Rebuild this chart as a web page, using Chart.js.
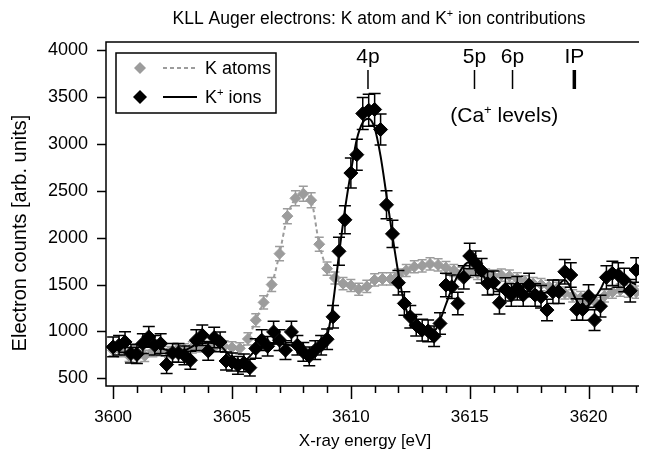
<!DOCTYPE html>
<html>
<head>
<meta charset="utf-8">
<title>KLL Auger electrons</title>
<script src="https://cdn.jsdelivr.net/npm/chart.js@4.4.1/dist/chart.umd.min.js"></script>
<style>
    html, body { margin: 0; padding: 0; background: #fff; }
    canvas { display: block; }
</style>
</head>
<body>
<canvas id="augerChart" width="647" height="451"></canvas>
<script>
// K+ ions (black diamonds), 0.25 eV steps
const ionEnergy = [
    3600, 3600.25, 3600.5, 3600.75, 3601, 3601.25, 3601.5, 3601.75, 3602, 3602.25,
    3602.5, 3602.75, 3603, 3603.25, 3603.5, 3603.75, 3604, 3604.25, 3604.5, 3604.75,
    3605, 3605.25, 3605.5, 3605.75, 3606, 3606.25, 3606.5, 3606.75, 3607, 3607.25,
    3607.5, 3607.75, 3608, 3608.25, 3608.5, 3608.75, 3609, 3609.25, 3609.5, 3609.75,
    3610, 3610.25, 3610.5, 3610.75, 3611, 3611.25, 3611.5, 3611.75, 3612, 3612.25,
    3612.5, 3612.75, 3613, 3613.25, 3613.5, 3613.75, 3614, 3614.25, 3614.5, 3614.75,
    3615, 3615.25, 3615.5, 3615.75, 3616, 3616.25, 3616.5, 3616.75, 3617, 3617.25,
    3617.5, 3617.75, 3618, 3618.25, 3618.5, 3618.75, 3619, 3619.25, 3619.5, 3619.75,
    3620, 3620.25, 3620.5, 3620.75, 3621, 3621.25, 3621.5, 3621.75, 3622
];
const ionCounts = [
    835, 853, 888, 764, 757, 871, 942, 853, 871, 647,
    771, 771, 746, 693, 907, 960, 792, 935, 888, 685,
    674, 639, 664, 614, 818, 907, 842, 995, 907, 800,
    995, 853, 782, 735, 800, 853, 917, 1156, 1855, 2191,
    2690, 2886, 3325, 3360, 3368, 3154, 2351, 2041, 1520, 1299,
    1156, 1067, 1014, 1006, 949, 1085, 1495, 1477, 1299, 1577,
    1805, 1727, 1648, 1513, 1520, 1306, 1449, 1388, 1460, 1388,
    1495, 1388, 1370, 1228, 1423, 1423, 1637, 1602, 1235, 1235,
    1377, 1121, 1270, 1577, 1620, 1602, 1549, 1434, 1656
];
const ionErr = [
    105, 105, 110, 100, 100, 105, 110, 105, 105, 95,
    100, 100, 100, 95, 110, 110, 100, 110, 105, 95,
    95, 95, 95, 90, 105, 110, 105, 115, 110, 100,
    115, 105, 100, 100, 100, 105, 110, 120, 150, 150,
    160, 165, 170, 170, 170, 165, 150, 145, 130, 125,
    120, 115, 115, 115, 110, 115, 125, 125, 120, 125,
    135, 130, 130, 125, 125, 120, 125, 120, 125, 120,
    125, 120, 120, 115, 125, 125, 130, 130, 115, 115,
    120, 110, 115, 125, 130, 130, 125, 120, 130
];

// K atoms (grey diamonds)
const atomEnergy = [
    3600, 3600.33, 3600.67, 3601, 3601.33, 3601.67, 3602, 3602.33, 3602.67, 3603,
    3603.33, 3603.67, 3604, 3604.33, 3604.67, 3605, 3605.33, 3605.67, 3606, 3606.33,
    3606.67, 3607, 3607.33, 3607.67, 3608, 3608.33, 3608.67, 3609, 3609.33, 3609.67,
    3610, 3610.33, 3610.67, 3611, 3611.33, 3611.67, 3612, 3612.33, 3612.67, 3613,
    3613.33, 3613.67, 3614, 3614.33, 3614.67, 3615, 3615.33, 3615.67, 3616, 3616.33,
    3616.67, 3617, 3617.33, 3617.67, 3618, 3618.33, 3618.67, 3619, 3619.33, 3619.67,
    3620, 3620.33, 3620.67, 3621, 3621.33, 3621.67, 3622
];
const atomCounts = [
    800, 790, 740, 730, 740, 790, 800, 780, 800, 810,
    830, 840, 830, 850, 840, 830, 820, 920, 1120, 1310,
    1500, 1830, 2230, 2420, 2470, 2400, 1930, 1670, 1570, 1510,
    1490, 1450, 1480, 1550, 1560, 1560, 1600, 1650, 1690, 1700,
    1720, 1710, 1680, 1650, 1620, 1640, 1620, 1600, 1590, 1600,
    1590, 1560, 1530, 1510, 1500, 1480, 1460, 1410, 1380, 1360,
    1320, 1300, 1380, 1420, 1440, 1430, 1420
];
const atomErr = [
    60, 60, 60, 60, 60, 60, 60, 60, 60, 60,
    60, 60, 60, 60, 60, 60, 60, 65, 70, 70,
    75, 75, 80, 80, 80, 80, 75, 70, 65, 65,
    65, 65, 65, 65, 65, 65, 65, 65, 65, 65,
    65, 65, 65, 65, 65, 65, 65, 65, 65, 65,
    65, 65, 65, 65, 65, 65, 65, 65, 65, 65,
    65, 65, 65, 65, 65, 65, 65
];

// fitted curve for K+ ions
const fitEnergy = [
    3600, 3600.5, 3601, 3601.5, 3602, 3602.5, 3603, 3603.5, 3604, 3604.5,
    3605, 3605.5, 3606, 3606.5, 3607, 3607.5, 3608, 3608.5, 3609, 3609.25,
    3609.5, 3609.75, 3610, 3610.25, 3610.5, 3610.75, 3611, 3611.25, 3611.5, 3611.75,
    3612, 3612.25, 3612.5, 3612.75, 3613, 3613.25, 3613.5, 3613.75, 3614, 3614.25,
    3614.5, 3614.75, 3615, 3615.25, 3615.5, 3615.75, 3616, 3616.5, 3617, 3617.5,
    3618, 3618.5, 3619, 3619.5, 3619.75, 3620, 3620.5, 3620.75, 3621, 3621.5, 3622
];
const fitCounts = [
    830, 830, 830, 840, 820, 790, 800, 860, 880, 850,
    720, 690, 800, 860, 870, 850, 790, 800, 950, 1300,
    1820, 2300, 2700, 3050, 3230, 3270, 3170, 2870, 2450, 2020,
    1620, 1300, 1120, 1040, 1000, 990, 1000, 1120, 1290, 1460,
    1600, 1700, 1740, 1700, 1620, 1530, 1470, 1420, 1420, 1430,
    1410, 1430, 1550, 1330, 1260, 1280, 1450, 1580, 1630, 1560, 1500
];

// Ca+ level markers
const levelNames = ['4p', '5p', '6p', 'IP'];
const levelEnergy = [3610.72, 3615.2, 3616.8, 3619.4];

const xTicks = [3600, 3605, 3610, 3615, 3620];
const yTicks = [500, 1000, 1500, 2000, 2500, 3000, 3500, 4000];

const GREY = '#9c9c9c';
const FONT = '"Liberation Sans", Arial, Helvetica, sans-serif';
const font = px => px + 'px ' + FONT;

const toPoints = (xs, ys) => xs.map((v, i) => ({ x: v, y: ys[i] }));

// text with superscript parts: [['K'], ['+', true], [' ions']]
function richText(ctx, parts, x, y, size, align) {
    const widths = parts.map(([t, sup]) => {
        ctx.font = font(sup ? size * 0.62 : size);
        return ctx.measureText(t).width;
    });
    const total = widths.reduce((a, b) => a + b, 0);
    let cx = align === 'center' ? x - total / 2 : (align === 'right' ? x - total : x);
    ctx.textAlign = 'left';
    ctx.textBaseline = 'alphabetic';
    parts.forEach(([t, sup], i) => {
        ctx.font = font(sup ? size * 0.62 : size);
        ctx.fillText(t, cx, sup ? y - size * 0.4 : y);
        cx += widths[i];
    });
}

function diamond(ctx, x, y, r, color) {
    ctx.beginPath();
    ctx.moveTo(x - r, y);
    ctx.lineTo(x, y - r);
    ctx.lineTo(x + r, y);
    ctx.lineTo(x, y + r);
    ctx.closePath();
    ctx.fillStyle = color;
    ctx.fill();
}

const decorPlugin = {
    id: 'decor',
    beforeDatasetDraw(chart, args) {
        const ds = chart.data.datasets[args.index];
        if (!ds.errors) return;
        const { ctx, chartArea: a, scales: { x, y } } = chart;
        ctx.save();
        ctx.beginPath();
        ctx.rect(a.left, a.top, a.right - a.left, a.bottom - a.top);
        ctx.clip();
        ctx.strokeStyle = ds.errorColor;
        ctx.lineWidth = ds.errorWidth;
        ds.data.forEach((p, i) => {
            const px = x.getPixelForValue(p.x);
            const lo = y.getPixelForValue(p.y - ds.errors[i]);
            const hi = y.getPixelForValue(p.y + ds.errors[i]);
            const c = ds.capHalf;
            ctx.beginPath();
            ctx.moveTo(px, lo); ctx.lineTo(px, hi);
            ctx.moveTo(px - c, lo); ctx.lineTo(px + c, lo);
            ctx.moveTo(px - c, hi); ctx.lineTo(px + c, hi);
            ctx.stroke();
        });
        ctx.restore();
    },
    afterDraw(chart) {
        const { ctx, chartArea: a, scales: { x, y } } = chart;
        ctx.save();
        ctx.strokeStyle = '#000';
        ctx.fillStyle = '#000';
        ctx.lineWidth = 1.5;

        // axes frame
        ctx.beginPath();
        ctx.moveTo(a.right, a.top);
        ctx.lineTo(a.left, a.top);
        ctx.lineTo(a.left, a.bottom);
        ctx.lineTo(a.right, a.bottom);
        ctx.stroke();

        // x ticks (major every 5 eV, minor every 1 eV)
        ctx.beginPath();
        for (let e = Math.ceil(x.min); e <= x.max; e++) {
            const px = Math.round(x.getPixelForValue(e)) + 0.5;
            const len = xTicks.includes(e) ? 13 : 7;
            ctx.moveTo(px, a.bottom);
            ctx.lineTo(px, a.bottom + len);
        }
        yTicks.forEach(v => {
            const py = Math.round(y.getPixelForValue(v)) + 0.5;
            ctx.moveTo(a.left - 9, py);
            ctx.lineTo(a.left, py);
        });
        ctx.stroke();

        // tick labels
        ctx.font = font(17);
        ctx.textBaseline = 'middle';
        ctx.textAlign = 'center';
        xTicks.forEach(v => ctx.fillText(String(v), x.getPixelForValue(v), a.bottom + 31));
        ctx.font = font(18);
        ctx.textAlign = 'right';
        yTicks.forEach(v => ctx.fillText(String(v), a.left - 18, y.getPixelForValue(v)));

        // axis titles
        ctx.textAlign = 'center';
        ctx.font = font(17);
        ctx.fillText('X-ray energy [eV]', 365, a.bottom + 55);
        ctx.save();
        ctx.translate(20, 233);
        ctx.rotate(-Math.PI / 2);
        ctx.font = font(20);
        ctx.fillText('Electron counts [arb. units]', 0, 0);
        ctx.restore();

        // chart title
        richText(ctx, [['KLL Auger electrons: K atom and K'], ['+', true], [' ion contributions']],
            379, 24, 17.5, 'center');

        // Ca+ level markers
        levelNames.forEach((name, i) => {
            const px = x.getPixelForValue(levelEnergy[i]);
            ctx.lineWidth = name === 'IP' ? 3.5 : 1.5;
            ctx.beginPath();
            ctx.moveTo(px, a.top + 28);
            ctx.lineTo(px, a.top + 47);
            ctx.stroke();
            ctx.font = font(21);
            ctx.textAlign = 'center';
            ctx.textBaseline = 'alphabetic';
            ctx.fillText(name, px, a.top + 21);
        });
        richText(ctx, [['(Ca'], ['+', true], [' levels)']], x.getPixelForValue(3616.45), a.top + 80, 21, 'center');

        // legend
        const lx = a.left + 10, ly = a.top + 11;
        ctx.lineWidth = 1.5;
        ctx.strokeStyle = '#000';
        ctx.strokeRect(lx, ly, 160, 60);
        const rows = chart.data.datasets.filter(d => d.legendRow !== undefined);
        rows.forEach(d => {
            const ry = ly + 15 + d.legendRow * 29;
            diamond(ctx, lx + 24, ry, d.legendRow ? 7 : 6, d.pointBackgroundColor);
            ctx.save();
            ctx.strokeStyle = d.borderColor;
            ctx.lineWidth = 2;
            ctx.setLineDash(d.borderDash || []);
            ctx.beginPath();
            ctx.moveTo(lx + 47, ry);
            ctx.lineTo(lx + 81, ry);
            ctx.stroke();
            ctx.restore();
            ctx.fillStyle = '#000';
            richText(ctx, d.legendParts, lx + 89, ry + 6, 18, 'left');
        });
        ctx.restore();
    }
};

new Chart(document.getElementById('augerChart'), {
    type: 'scatter',
    data: {
        datasets: [
            {
                label: 'K+ ions',
                data: toPoints(ionEnergy, ionCounts),
                errors: ionErr,
                errorColor: '#000',
                errorWidth: 1.5,
                capHalf: 6,
                pointStyle: 'rectRot',
                pointRadius: 7,
                pointBackgroundColor: '#000',
                pointBorderColor: '#000',
                pointBorderWidth: 1,
                borderColor: '#000',
                showLine: false,
                legendRow: 1,
                legendParts: [['K'], ['+', true], [' ions']],
                order: 0
            },
            {
                label: 'K+ fit',
                data: toPoints(fitEnergy, fitCounts),
                showLine: true,
                pointRadius: 0,
                borderColor: '#000',
                borderWidth: 2,
                cubicInterpolationMode: 'monotone',
                order: 1
            },
            {
                label: 'K atoms',
                data: toPoints(atomEnergy, atomCounts),
                errors: atomErr,
                errorColor: GREY,
                errorWidth: 1.5,
                capHalf: 4.5,
                pointStyle: 'rectRot',
                pointRadius: 5.5,
                pointBackgroundColor: GREY,
                pointBorderColor: GREY,
                pointBorderWidth: 1,
                borderColor: GREY,
                borderWidth: 2,
                borderDash: [4, 3],
                showLine: true,
                cubicInterpolationMode: 'monotone',
                legendRow: 0,
                legendParts: [['K atoms']],
                order: 2
            }
        ]
    },
    options: {
        responsive: false,
        devicePixelRatio: 1,
        animation: false,
        layout: { padding: { top: 42, right: 0, bottom: 0, left: 0 } },
        plugins: {
            legend: { display: false },
            title: { display: false },
            tooltip: { enabled: false }
        },
        scales: {
            x: {
                type: 'linear',
                min: 3599.7,
                max: 3622.12,
                grid: { display: false },
                border: { display: false },
                ticks: { display: false },
                afterFit(s) { s.height = 65; }
            },
            y: {
                type: 'linear',
                min: 418,
                max: 4088,
                grid: { display: false },
                border: { display: false },
                ticks: { display: false },
                afterFit(s) { s.width = 106; }
            }
        }
    },
    plugins: [decorPlugin]
});
</script>
</body>
</html>
